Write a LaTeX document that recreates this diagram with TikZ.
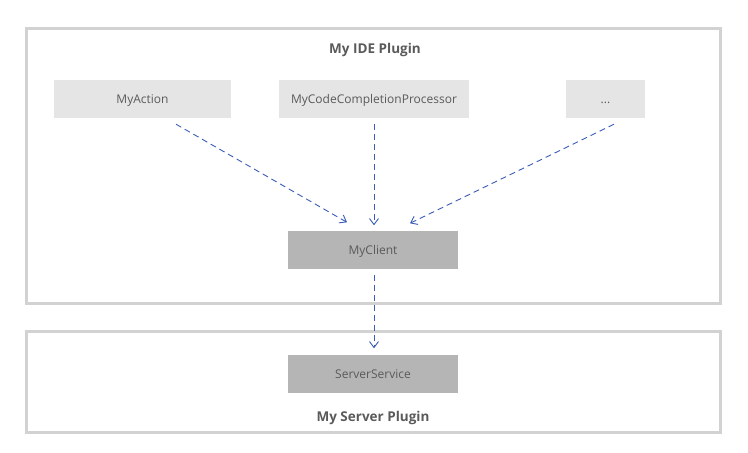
\documentclass[tikz,border=0pt]{standalone}
\usepackage{fontspec}
\setmainfont{Open Sans}
\usetikzlibrary{arrows.meta}
\definecolor{frame}{HTML}{D2D2D2}
\definecolor{light}{HTML}{E5E5E5}
\definecolor{dark}{HTML}{B5B5B5}
\definecolor{txt}{HTML}{5A5A5A}
\definecolor{link}{HTML}{3A5CB8}
\tikzset{
  plugin/.style={draw=frame,line width=3pt},
  title/.style={text=txt,font=\fontsize{13.5}{16}\selectfont\bfseries},
  comp/.style={fill=light,text=txt,minimum height=38pt,text height=10pt,text depth=1pt,font=\fontsize{12}{14}\selectfont},
  core/.style={comp,fill=dark,minimum width=170pt},
  call/.style={link,line width=0.9pt,dash pattern=on 6pt off 4pt,-{Straight Barb[length=6pt,width=9pt]}}
}
\begin{document}
\begin{tikzpicture}[x=1pt,y=-1pt]
  \useasboundingbox (0,0) rectangle (748,453);
  \draw[plugin] (26,28) rectangle (720,303);
  \draw[plugin] (26,331) rectangle (720,432);
  \node[title] (ide) at (375,50) {My IDE Plugin};
  \node[title] (srv) at (373,418) {My Server Plugin};

  \node[comp,minimum width=177pt] (act) at (142.5,99) {MyAction};
  \node[comp,minimum width=190pt] (ccp) at (374,99) {MyCodeCompletionProcessor};
  \node[comp,minimum width=79pt]  (etc) at (605.5,99) {...};
  \node[core] (cli) at (373,249.5) {MyClient};
  \node[core] (svc) at (373,373.5) {ServerService};

  \draw[call] ([xshift=33.5pt,yshift=-6pt]act.south) -- ([xshift=-26pt,yshift=8pt]cli.north);
  \draw[call] ([yshift=-6pt]ccp.south) -- ([xshift=1pt,yshift=5pt]cli.north);
  \draw[call] ([xshift=8.5pt,yshift=-6pt]etc.south) -- ([xshift=37pt,yshift=7pt]cli.north);
  \draw[call] ([xshift=1pt,yshift=-6pt]cli.south) -- ([xshift=1pt,yshift=6pt]svc.north);
\end{tikzpicture}
\end{document}
